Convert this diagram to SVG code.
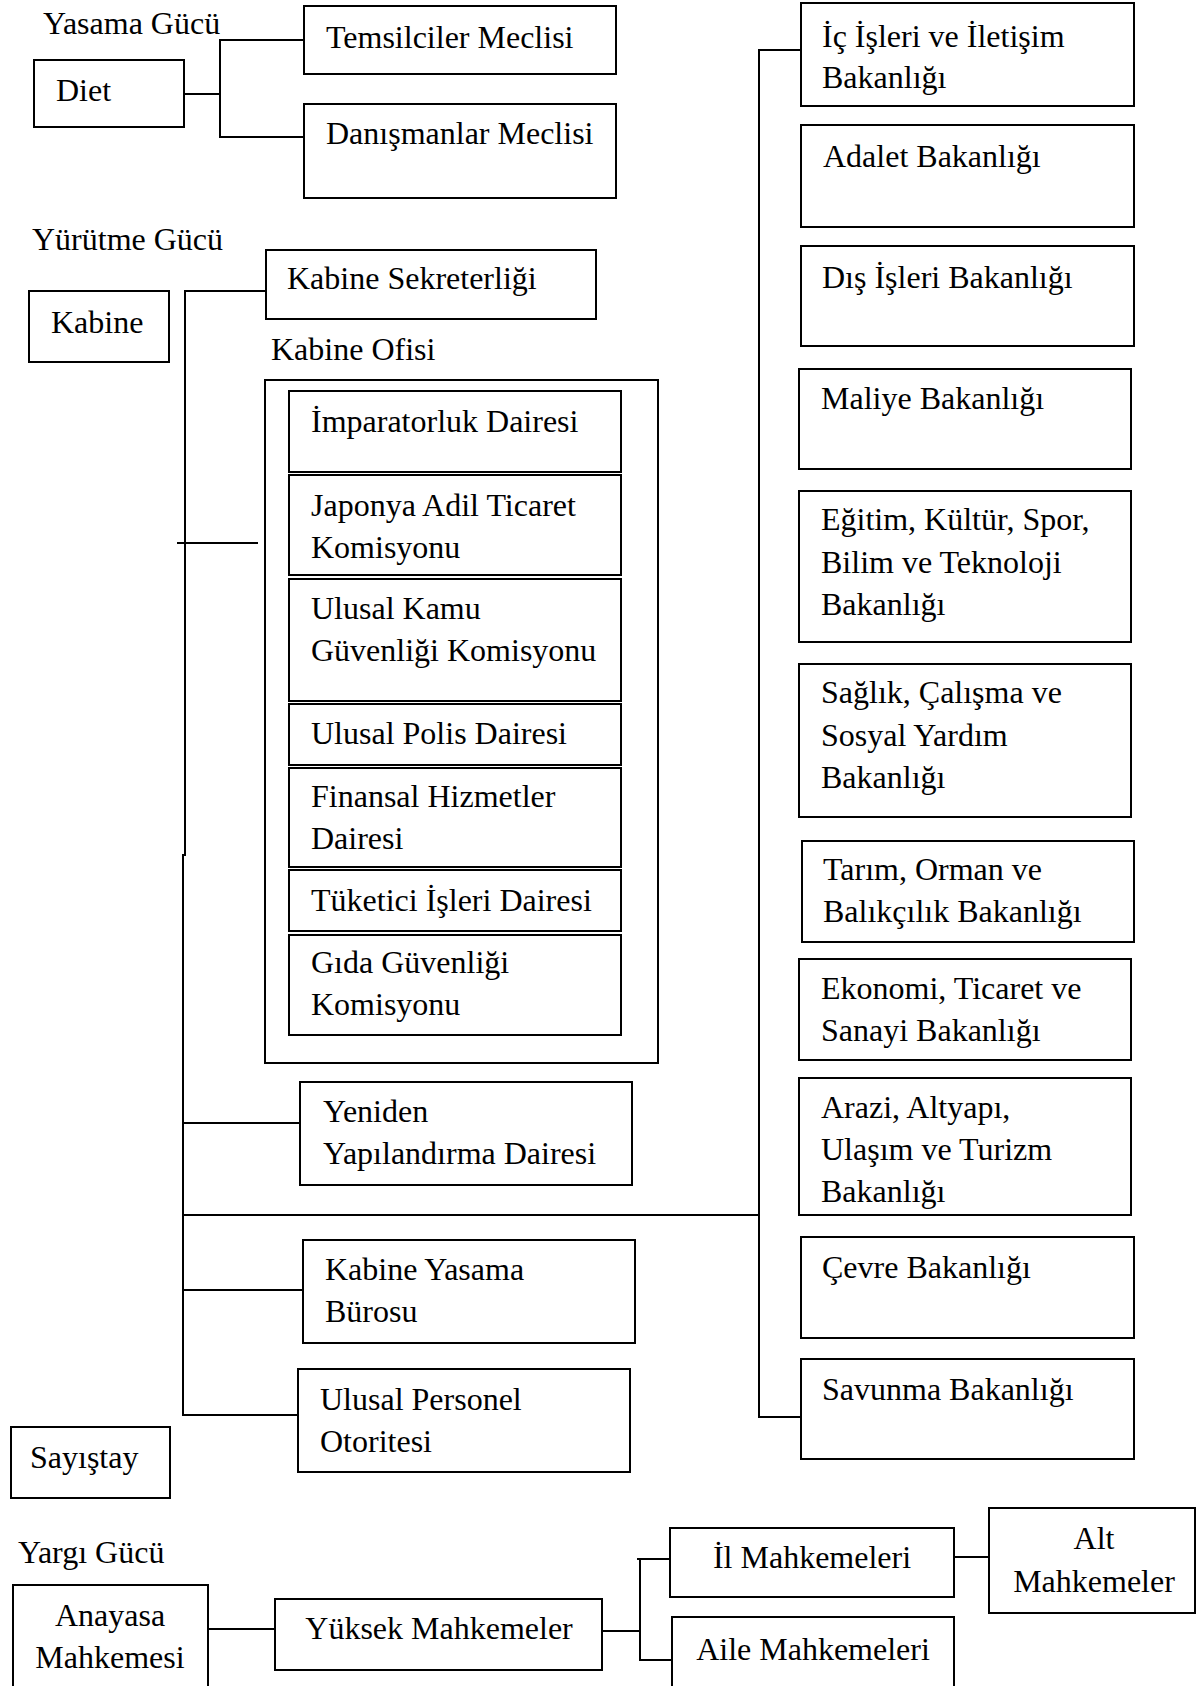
<svg xmlns="http://www.w3.org/2000/svg" width="1197" height="1686" viewBox="0 0 1197 1686">
<style>
.box{fill:#fff;stroke:#000;stroke-width:2}
.ln{fill:none;stroke:#000;stroke-width:2}
text{font-family:"Liberation Serif","Times New Roman",serif;font-size:32px;fill:#000}
.m{text-anchor:middle}
</style>
<rect width="1197" height="1686" fill="#fff"/>
<g id="connectors">
<path class="ln" d="M184,94 H220 M304,40 H220 V137 H304"/>
<path class="ln" d="M266,291 H185 V855 H183 V1415 H298"/>
<path class="ln" d="M177,543 H258"/>
<path class="ln" d="M183,1123 H303"/>
<path class="ln" d="M183,1215 H759"/>
<path class="ln" d="M183,1290 H303"/>
<path class="ln" d="M801,50 H759 V1417 H801"/>
<path class="ln" d="M208,1629 H275"/>
<path class="ln" d="M602,1631 H640"/>
<path class="ln" d="M637,1559 H670 M640,1559 V1660 H672"/>
<path class="ln" d="M954,1557 H989"/>
</g>
<g id="labels">
<text x="43" y="34">Yasama Gücü</text>
<text x="32" y="250">Yürütme Gücü</text>
<text x="271" y="360">Kabine Ofisi</text>
<text x="18" y="1563">Yargı Gücü</text>
</g>
<g id="diet"><rect class="box" x="34" y="60" width="150" height="67"/><text x="56" y="101">Diet</text></g>
<g id="temsilciler"><rect class="box" x="304" y="6" width="312" height="68"/><text x="326" y="48">Temsilciler Meclisi</text></g>
<g id="danismanlar"><rect class="box" x="304" y="104" width="312" height="94"/><text x="326" y="144">Danışmanlar Meclisi</text></g>
<g id="kabine"><rect class="box" x="29" y="291" width="140" height="71"/><text x="51" y="333">Kabine</text></g>
<g id="sekreterlik"><rect class="box" x="266" y="250" width="330" height="69"/><text x="287" y="289">Kabine Sekreterliği</text></g>
<g id="kabine-ofisi"><rect class="box" x="265" y="380" width="393" height="683"/></g>
<g id="imparatorluk"><rect class="box" x="289" y="391" width="332" height="81"/><text x="311" y="432">İmparatorluk Dairesi</text></g>
<g id="adil-ticaret"><rect class="box" x="289" y="475" width="332" height="100"/><text x="311" y="516">Japonya Adil Ticaret</text><text x="311" y="558">Komisyonu</text></g>
<g id="kamu-guvenligi"><rect class="box" x="289" y="579" width="332" height="122"/><text x="311" y="619">Ulusal Kamu</text><text x="311" y="661">Güvenliği Komisyonu</text></g>
<g id="polis"><rect class="box" x="289" y="704" width="332" height="61"/><text x="311" y="744">Ulusal Polis Dairesi</text></g>
<g id="finansal"><rect class="box" x="289" y="768" width="332" height="99"/><text x="311" y="807">Finansal Hizmetler</text><text x="311" y="849">Dairesi</text></g>
<g id="tuketici"><rect class="box" x="289" y="870" width="332" height="61"/><text x="311" y="911">Tüketici İşleri Dairesi</text></g>
<g id="gida"><rect class="box" x="289" y="935" width="332" height="100"/><text x="311" y="973">Gıda Güvenliği</text><text x="311" y="1015">Komisyonu</text></g>
<g id="yeniden"><rect class="box" x="300" y="1082" width="332" height="103"/><text x="323" y="1122">Yeniden</text><text x="323" y="1164">Yapılandırma Dairesi</text></g>
<g id="yasama-burosu"><rect class="box" x="303" y="1240" width="332" height="103"/><text x="325" y="1280">Kabine Yasama</text><text x="325" y="1322">Bürosu</text></g>
<g id="personel"><rect class="box" x="298" y="1369" width="332" height="103"/><text x="320" y="1410">Ulusal Personel</text><text x="320" y="1452">Otoritesi</text></g>
<g id="sayistay"><rect class="box" x="11" y="1427" width="159" height="71"/><text x="30" y="1468">Sayıştay</text></g>
<g id="icisleri"><rect class="box" x="801" y="3" width="333" height="103"/><text x="822" y="47">İç İşleri ve İletişim</text><text x="822" y="88">Bakanlığı</text></g>
<g id="adalet"><rect class="box" x="801" y="125" width="333" height="102"/><text x="823" y="167">Adalet Bakanlığı</text></g>
<g id="disisleri"><rect class="box" x="801" y="246" width="333" height="100"/><text x="822" y="288">Dış İşleri Bakanlığı</text></g>
<g id="maliye"><rect class="box" x="799" y="369" width="332" height="100"/><text x="821" y="409">Maliye Bakanlığı</text></g>
<g id="egitim"><rect class="box" x="799" y="491" width="332" height="151"/><text x="821" y="530">Eğitim, Kültür, Spor,</text><text x="821" y="573">Bilim ve Teknoloji</text><text x="821" y="615">Bakanlığı</text></g>
<g id="saglik"><rect class="box" x="799" y="664" width="332" height="153"/><text x="821" y="703">Sağlık, Çalışma ve</text><text x="821" y="746">Sosyal Yardım</text><text x="821" y="788">Bakanlığı</text></g>
<g id="tarim"><rect class="box" x="802" y="841" width="332" height="101"/><text x="823" y="880">Tarım, Orman ve</text><text x="823" y="922">Balıkçılık Bakanlığı</text></g>
<g id="ekonomi"><rect class="box" x="799" y="959" width="332" height="101"/><text x="821" y="999">Ekonomi, Ticaret ve</text><text x="821" y="1041">Sanayi Bakanlığı</text></g>
<g id="arazi"><rect class="box" x="799" y="1078" width="332" height="137"/><text x="821" y="1118">Arazi, Altyapı,</text><text x="821" y="1160">Ulaşım ve Turizm</text><text x="821" y="1202">Bakanlığı</text></g>
<g id="cevre"><rect class="box" x="801" y="1237" width="333" height="101"/><text x="822" y="1278">Çevre Bakanlığı</text></g>
<g id="savunma"><rect class="box" x="801" y="1359" width="333" height="100"/><text x="822" y="1400">Savunma Bakanlığı</text></g>
<g id="anayasa"><rect class="box" x="13" y="1585" width="195" height="110"/><text class="m" x="110" y="1626">Anayasa</text><text class="m" x="110" y="1668">Mahkemesi</text></g>
<g id="yuksek"><rect class="box" x="275" y="1599" width="327" height="71"/><text class="m" x="439" y="1639">Yüksek Mahkemeler</text></g>
<g id="il"><rect class="box" x="670" y="1528" width="284" height="69"/><text class="m" x="812" y="1568">İl Mahkemeleri</text></g>
<g id="aile"><rect class="box" x="672" y="1617" width="282" height="80"/><text class="m" x="813" y="1660">Aile Mahkemeleri</text></g>
<g id="alt"><rect class="box" x="989" y="1508" width="206" height="105"/><text class="m" x="1094" y="1549">Alt</text><text class="m" x="1094" y="1592">Mahkemeler</text></g>
</svg>
